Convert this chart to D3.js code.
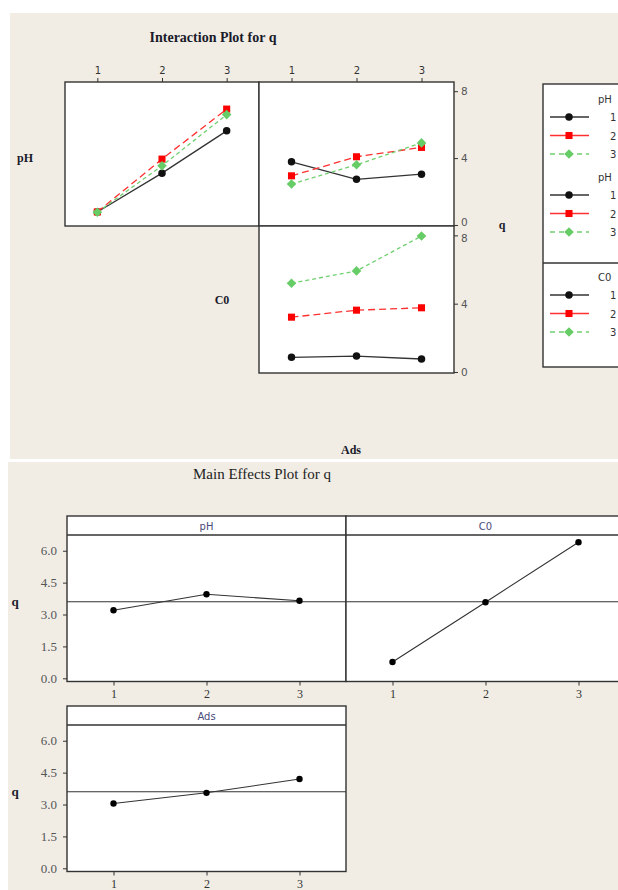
<!DOCTYPE html>
<html>
<head>
<meta charset="utf-8">
<script src="https://cdn.jsdelivr.net/npm/d3@7"></script>
<style>
  html, body { margin: 0; padding: 0; background: #fff; }
  svg { display: block; }
</style>
</head>
<body>
<svg id="chart" width="618" height="890"></svg>
<script>
// ---- data ----
const levels = [1, 2, 3];
const levelLabels = ["1", "2", "3"];

// Interaction plot: mean q by C0 level, one series per pH level
const pH1ByC0 = [0.78, 3.10, 5.63];
const pH2ByC0 = [0.78, 3.94, 6.93];
const pH3ByC0 = [0.76, 3.54, 6.60];
// mean q by Ads level, one series per pH level
const pH1ByAds = [3.78, 2.73, 3.04];
const pH2ByAds = [2.94, 4.08, 4.64];
const pH3ByAds = [2.45, 3.60, 4.91];
// mean q by Ads level, one series per C0 level
const c01ByAds = [0.86, 0.93, 0.76];
const c02ByAds = [3.21, 3.62, 3.76];
const c03ByAds = [5.20, 5.92, 7.96];
const interTicks = [0, 4, 8];

// Main effects: mean q per factor level
const mainPH = [3.20, 3.95, 3.65];
const mainC0 = [0.77, 3.58, 6.40];
const mainAds = [3.05, 3.55, 4.20];
const grandMean = 3.6;
const mainTicks = [0, 1.5, 3, 4.5, 6];

// ---- drawing ----
const svg = d3.select("#chart");
const bg = "#f1ede5";
const ink = "#333";
const serif = "'Liberation Serif', 'Times New Roman', serif";
const sans = "'DejaVu Sans', Tahoma, sans-serif";

svg.append("rect").attr("x", 10).attr("y", 13).attr("width", 608).attr("height", 446).attr("fill", bg);
svg.append("rect").attr("x", 8).attr("y", 462).attr("width", 610).attr("height", 428).attr("fill", bg);

// series styles (diamond = square turned 45°)
const styles = [
  { color: "#111", line: "#333", dash: null, shape: d3.symbolCircle, size: 44, rot: 0 },
  { color: "#ff0000", line: "#ff3030", dash: "7,4", shape: d3.symbolSquare, size: 50, rot: 0 },
  { color: "#66cc66", line: "#70d070", dash: "4,3", shape: d3.symbolSquare, size: 46, rot: 45 }
];

// ===== Interaction plot =====
svg.append("text").attr("x", 213).attr("y", 42).attr("text-anchor", "middle")
  .attr("font-family", serif).attr("font-weight", "bold").attr("font-size", 14)
  .attr("fill", "#1a1a2a").text("Interaction Plot for q");

const colL = [65, 259], colR = [259, 454];
const rowT = [226, 82], rowB = [373, 226];
const yDom = [-0.06, 8.55];

function interPanel(xr, yr, series, opts) {
  const x = d3.scaleLinear().domain([0.5, 3.5]).range(xr);
  const y = d3.scaleLinear().domain(yDom).range(yr);
  const g = svg.append("g");
  g.append("rect").attr("x", xr[0]).attr("y", yr[1]).attr("width", xr[1] - xr[0])
    .attr("height", yr[0] - yr[1]).attr("fill", "#fff").attr("stroke", ink).attr("stroke-width", 1.4);
  const line = d3.line().x((d, i) => x(levels[i])).y(d => y(d));
  series.forEach((s, k) => {
    const st = styles[k];
    g.append("path").attr("d", line(s)).attr("fill", "none").attr("stroke", st.line)
      .attr("stroke-width", 1.3).attr("stroke-dasharray", st.dash);
    g.selectAll(null).data(s).enter().append("path")
      .attr("d", d3.symbol().type(st.shape).size(st.size))
      .attr("transform", (d, i) => `translate(${x(levels[i])},${y(d)}) rotate(${st.rot})`)
      .attr("fill", st.color);
  });
  if (opts.topAxis) {
    const ax = g.append("g").attr("transform", `translate(0,${yr[1]})`)
      .call(d3.axisTop(x).tickValues(levels).tickFormat((d, i) => levelLabels[i]).tickSize(4).tickSizeOuter(0));
    ax.select(".domain").remove();
    ax.selectAll("line").attr("stroke", ink);
    ax.selectAll("text").attr("font-family", sans).attr("font-size", 10).attr("fill", "#333").attr("dy", "-0.1em");
  }
  if (opts.rightAxis) {
    const ax = g.append("g").attr("transform", `translate(${xr[1]},0)`)
      .call(d3.axisRight(y).tickValues(interTicks).tickFormat(d3.format("d")).tickSize(4).tickSizeOuter(0));
    ax.select(".domain").remove();
    ax.selectAll("line").attr("stroke", ink);
    ax.selectAll("text").attr("font-family", sans).attr("font-size", 10.5).attr("fill", "#555")
      .attr("dy", d => d === 0 ? (opts.upper ? "0.05em" : "0.32em") : d === 8 && !opts.upper ? "0.62em" : "0.32em");
  }
}

interPanel(colL, rowT, [pH1ByC0, pH2ByC0, pH3ByC0], { topAxis: true });
interPanel(colR, rowT, [pH1ByAds, pH2ByAds, pH3ByAds], { topAxis: true, rightAxis: true, upper: true });
interPanel(colR, rowB, [c01ByAds, c02ByAds, c03ByAds], { rightAxis: true });

const boldLabel = (t, x, y) => svg.append("text").attr("x", x).attr("y", y).attr("text-anchor", "middle")
  .attr("font-family", serif).attr("font-weight", "bold").attr("font-size", 12).attr("fill", "#1a1a2a").text(t);
boldLabel("pH", 25, 162);
boldLabel("C0", 222, 304);
boldLabel("q", 502, 229);
boldLabel("Ads", 351, 454);

// legend
const lg = svg.append("g");
lg.append("rect").attr("x", 543).attr("y", 84).attr("width", 90).attr("height", 283)
  .attr("fill", "#fff").attr("stroke", ink).attr("stroke-width", 1.4);
lg.append("line").attr("x1", 543).attr("x2", 618).attr("y1", 263).attr("y2", 263)
  .attr("stroke", ink).attr("stroke-width", 1.4);
const legendGroups = [
  { title: "pH", y: 99 },
  { title: "pH", y: 177 },
  { title: "C0", y: 277 }
];
legendGroups.forEach(grp => {
  lg.append("text").attr("x", 598).attr("y", grp.y + 4).attr("font-family", sans)
    .attr("font-size", 10).attr("fill", "#333").text(grp.title);
  levelLabels.forEach((lab, k) => {
    const yy = grp.y + 18 + k * 18.5;
    const st = styles[k];
    lg.append("line").attr("x1", 550).attr("x2", 589).attr("y1", yy).attr("y2", yy)
      .attr("stroke", st.line).attr("stroke-width", 1.3)
      .attr("stroke-dasharray", k === 2 ? "5,4" : null);
    lg.append("path").attr("d", d3.symbol().type(st.shape).size(st.size)())
      .attr("transform", `translate(569,${yy}) rotate(${st.rot})`).attr("fill", st.color);
    lg.append("text").attr("x", 610).attr("y", yy + 4).attr("font-family", sans)
      .attr("font-size", 10).attr("fill", "#333").text(lab);
  });
});

// ===== Main effects plot =====
svg.append("text").attr("x", 262).attr("y", 479).attr("text-anchor", "middle")
  .attr("font-family", serif).attr("font-size", 15).attr("fill", "#222").text("Main Effects Plot for q");

const mainDom = [-0.15, 6.74];
const panelW = 279;

function mainPanel(x0, top, title, values, opts) {
  const headerH = 19;
  const plotTop = top + headerH;
  const bottom = plotTop + 146.5;
  const x = d3.scaleLinear().domain([0.5, 3.5]).range([x0, x0 + panelW]);
  const y = d3.scaleLinear().domain(mainDom).range([bottom, plotTop]);
  const g = svg.append("g");
  g.append("rect").attr("x", x0).attr("y", top).attr("width", panelW).attr("height", bottom - top)
    .attr("fill", "#fff").attr("stroke", ink).attr("stroke-width", 1.4);
  g.append("line").attr("x1", x0).attr("x2", x0 + panelW).attr("y1", plotTop).attr("y2", plotTop)
    .attr("stroke", ink).attr("stroke-width", 1.4);
  g.append("text").attr("x", x0 + panelW / 2).attr("y", top + 13.5).attr("text-anchor", "middle")
    .attr("font-family", sans).attr("font-size", 10).attr("fill", "#4a4a7a").text(title);
  g.append("line").attr("x1", x0).attr("x2", x0 + panelW)
    .attr("y1", y(grandMean)).attr("y2", y(grandMean)).attr("stroke", "#333").attr("stroke-width", 1.1);
  g.append("path").attr("d", d3.line().x((d, i) => x(levels[i])).y(d => y(d))(values))
    .attr("fill", "none").attr("stroke", "#333").attr("stroke-width", 1.1);
  g.selectAll(null).data(values).enter().append("circle")
    .attr("cx", (d, i) => x(levels[i])).attr("cy", d => y(d)).attr("r", 3.2).attr("fill", "#000");
  const ax = g.append("g").attr("transform", `translate(0,${bottom})`)
    .call(d3.axisBottom(x).tickValues(levels).tickFormat((d, i) => levelLabels[i]).tickSize(4).tickSizeOuter(0).tickPadding(4));
  ax.select(".domain").remove();
  ax.selectAll("line").attr("stroke", ink);
  ax.selectAll("text").attr("font-family", serif).attr("font-size", 12).attr("fill", "#333");
  if (opts.leftAxis) {
    const ay = g.append("g").attr("transform", `translate(${x0},0)`)
      .call(d3.axisLeft(y).tickValues(mainTicks).tickFormat(d3.format(".1f")).tickSize(4).tickSizeOuter(0).tickPadding(6));
    ay.select(".domain").remove();
    ay.selectAll("line").attr("stroke", ink);
    ay.selectAll("text").attr("font-family", serif).attr("font-size", 13).attr("fill", "#555");
    g.append("text").attr("x", 15).attr("y", y(grandMean) + 4).attr("text-anchor", "middle")
      .attr("font-family", serif).attr("font-weight", "bold").attr("font-size", 13)
      .attr("fill", "#1a1a2a").text("q");
  }
}

mainPanel(67, 516, "pH", mainPH, { leftAxis: true });
mainPanel(346, 516, "C0", mainC0, {});
mainPanel(67, 706, "Ads", mainAds, { leftAxis: true });
</script>
</body>
</html>
